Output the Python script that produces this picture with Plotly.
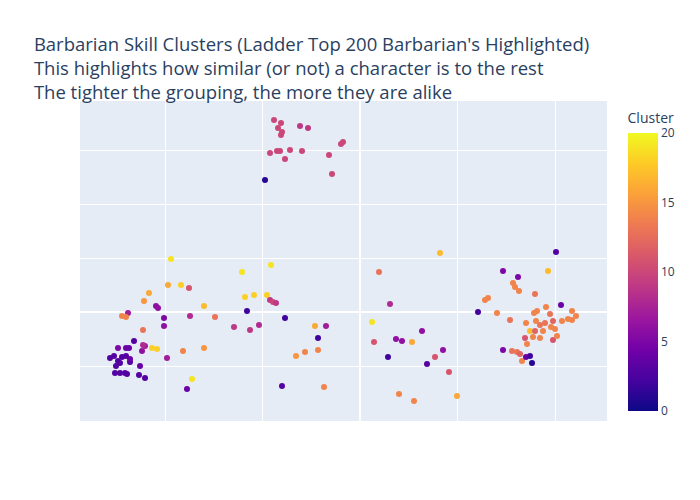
import plotly.graph_objects as go

x = [-8.6,-7.9,-8.2,-7.8,-7.9,-6.0,-5.2,-9.0,-8.3,-8.0,-7.0,-5.8,-7.5,-3.1,-1.9,-1.7,-2.8,-9.5,
     -25.0,-24.6,-24.2,-23.8,-23.4,-23.0,-24.4,-24.0,-24.5,-24.0,-23.5,-23.3,-22.0,-22.1,-21.5,-24.2,-23.4,-22.6,-23.1,-21.8,-21.5,-23.0,
     -23.8,-23.2,-23.4,-21.6,-21.1,-21.7,-21.7,-20.8,-20.3,-20.4,-20.2,-19.6,-19.6,-19.3,-19.2,-18.9,-17.9,-17.1,-17.0,-17.7,-17.3,-16.8,-15.6,-14.5,-15.6,
     -11.8,-11.5,-10.6,-11.3,-11.0,-12.6,-10.1,-9.3,-8.9,-9.0,-8.7,-8.4,-7.5,-7.8,-6.4,-5.5,-4.5,-4.2,-3.4,-4.2,-3.6,
     1.2,1.4,1.9,2.8,3.0,3.6,4.2,3.9,5.2,5.4,6.2,6.7,7.5,8.0,8.3,8.9,9.7,
     11.8,12.5,12.8,13.7,14.3,14.3,15.0,15.8,15.3,15.9,15.5,15.2,15.7,16.0,16.2,16.6,16.5,16.7,16.6,17.0,17.2,17.4,17.6,17.7,17.5,18.0,18.0,18.6,18.8,19.0,19.1,19.3,19.6,19.5,19.3,19.7,20.1,20.2,20.8,21.2,21.2,21.6,18.3,17.5,18.5,17.0,17.3]
y = [19.2,18.9,18.4,18.0,17.7,18.6,18.4,15.9,16.1,16.1,16.2,16.1,15.3,15.7,16.8,17.0,13.8,13.2,
     -4.6,-4.4,-4.9,-4.5,-4.4,-5.0,-5.4,-5.1,-6.1,-6.1,-6.1,-6.2,-5.4,-6.3,-6.6,-3.6,-3.6,-2.9,-3.6,-3.9,-3.4,-4.7,
     -0.4,-0.1,-0.5,1.1,1.9,-1.8,-3.3,-3.6,-3.7,0.6,0.4,-0.6,-1.4,-4.6,2.7,5.3,2.7,2.4,-0.4,-3.9,-7.7,-6.7,0.6,-0.5,-3.6,
     4.0,1.5,1.7,0.1,-1.8,-1.5,-1.3,1.7,4.7,1.2,1.0,0.9,-0.6,-7.4,-4.4,-4.0,-1.4,-3.8,-1.4,-2.6,-7.5,
     -1.0,-3.0,4.0,-4.5,0.8,-2.7,-2.9,-8.2,-3.0,-8.9,-1.9,-5.2,-4.5,5.9,-3.8,-6.0,-8.4,
     0.0,1.2,1.4,-0.1,4.1,-3.8,-0.8,3.5,2.9,2.1,2.5,-3.9,-4.0,-4.2,-4.9,-4.5,-2.6,-3.2,-1.1,-1.9,-5.1,-0.1,-0.9,0.1,1.8,-1.3,-2.6,0.5,4.1,-0.2,-1.5,-0.9,6.0,-1.7,-2.8,-2.4,0.7,-0.9,-0.7,-0.8,0.1,-0.4,-1.9,-1.9,-1.1,-4.4,-2.5]
cluster = [10,10,10,10,10,9,9,10,10,10,10,10,10,10,10,10,10,1,
     3,3,3,3,3,3,3,3,3,3,3,3,4,3,3,5,4,3,4,6,7,4,
     14,7,14,15,16,13,8,18,18,6,6,5,6,7,16,19,18,11,8,14,4,19,17,13,15,
     19,18,18,2,9,9,8,18,19,9,10,9,2,3,15,14,16,14,7,2,14,
     19,11,13,2,8,6,6,14,16,14,6,3,11,17,6,11,16,
     2,14,14,14,5,5,13,5,14,14,14,13,13,12,14,4,11,14,14,17,1,14,14,14,13,13,14,14,17,13,14,12,3,14,11,14,4,14,14,14,14,14,14,12,13,2,14]

fig = go.Figure(go.Scatter(
    x=x, y=y, mode="markers",
    marker=dict(size=6, color=cluster, colorscale="Plasma", cmin=0, cmax=20,
                colorbar=dict(title=dict(text="Cluster"), tickvals=[0,5,10,15,20],
                              thickness=30, lenmode="pixels", len=322, y=0.503, yanchor="middle",
                              outlinewidth=0)),
))
fig.update_layout(
    width=700, height=500,
    title=dict(text="Barbarian Skill Clusters (Ladder Top 200 Barbarian's Highlighted)<br>This highlights how similar (or not) a character is to the rest<br>The tighter the grouping, the more they are alike",
               x=0.037, y=0.915, font=dict(size=18.5)),
    margin=dict(l=72, r=101, t=93, b=87),
    xaxis=dict(range=[-28, 24.7], dtick=9.75, showticklabels=False, zerolinewidth=2, title=None),
    yaxis=dict(range=[-10.9, 21.1], dtick=5.4, showticklabels=False, zerolinewidth=2, title=None),
)
fig.write_html("out.html")
